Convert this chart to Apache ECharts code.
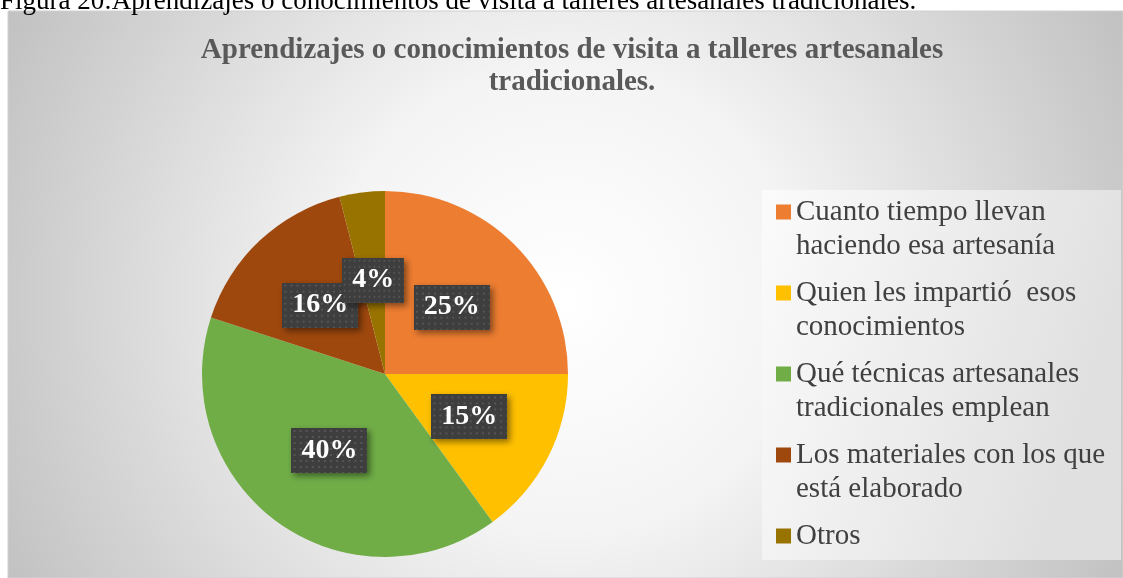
<!DOCTYPE html>
<html>
<head>
<meta charset="utf-8">
<script src="https://cdn.jsdelivr.net/npm/echarts@6/dist/echarts.min.js"></script>
<style>
  html, body { margin: 0; padding: 0; background: #fff; }
  #chart { width: 1123px; height: 578px; }
</style>
</head>
<body>
<div id="chart"></div>
<script>
  // datos
  var categories = [
    'Cuanto tiempo llevan haciendo esa artesanía',
    'Quien les impartió  esos conocimientos',
    'Qué técnicas artesanales tradicionales emplean',
    'Los materiales con los que está elaborado',
    'Otros'
  ]
  var percents = [25, 15, 40, 16, 4]
  var colors = ['#ED7D31', '#FFC000', '#70AD47', '#9E480E', '#997300']
  var titleText = 'Aprendizajes o conocimientos de visita a talleres artesanales\ntradicionales.'
  var captionText = 'Figura 20:Aprendizajes o conocimientos de visita a talleres artesanales tradicionales.'

  var serif = '"Liberation Serif", "Times New Roman", serif'
  var chart = echarts.init(document.getElementById('chart'))

  // icono cuadrado arriba, alineado con la primera linea del texto
  var topSquare = 'path://M0,0h15v15h-15zM0,49h15'

  // fondo punteado de las etiquetas
  var dots = document.createElement('canvas')
  dots.width = 75
  dots.height = 45
  var ctx = dots.getContext('2d')
  ctx.fillStyle = '#3e3e3e'
  ctx.fillRect(0, 0, 75, 45)
  ctx.fillStyle = '#555555'
  for (var yy = 2; yy < 45; yy += 6) {
    for (var xx = 2; xx < 75; xx += 6) ctx.fillRect(xx, yy, 2, 2)
  }

  var option = {
    animation: false,
    color: colors,
    title: {
      text: titleText,
      left: 572,
      top: 35,
      padding: 0,
      textAlign: 'center',
      textStyle: {
        fontFamily: serif,
        fontWeight: 'bold',
        fontSize: 29,
        lineHeight: 32,
        color: '#595959'
      }
    },
    legend: {
      orient: 'vertical',
      left: 776,
      top: 195,
      height: 470,
      padding: 0,
      itemGap: 13,
      itemWidth: 15,
      itemHeight: 49,
      icon: topSquare,
      selectedMode: false,
      data: categories,
      formatter: function (name) {
        // la ultima entrada ocupa una sola linea
        return categories.indexOf(name) === categories.length - 1 ? name + '\n ' : name
      },
      textStyle: {
        fontFamily: serif,
        fontSize: 29,
        lineHeight: 34,
        color: '#404040',
        width: 330,
        overflow: 'break'
      }
    },
    graphic: [
      {
        type: 'rect',
        z: -10,
        silent: true,
        shape: { x: 8, y: 11, width: 1115, height: 567 },
        style: {
          fill: {
            type: 'radial', x: 565, y: 300, r: 660, global: true,
            colorStops: [
              { offset: 0, color: '#ffffff' },
              { offset: 0.35, color: '#f4f4f4' },
              { offset: 1, color: '#bdbdbd' }
            ]
          },
          stroke: '#d0d0d0',
          lineWidth: 1
        }
      },
      {
        type: 'rect',
        z: -5,
        silent: true,
        shape: { x: 762, y: 190, width: 359, height: 370 },
        style: {
          fill: {
            type: 'linear', x: 0, y: 0, x2: 1, y2: 0.3,
            colorStops: [
              { offset: 0, color: '#fbfbfb' },
              { offset: 1, color: '#e0e0e0' }
            ]
          }
        }
      },
      {
        type: 'text',
        silent: true,
        left: 0,
        top: -12,
        style: {
          text: captionText,
          font: '27px ' + serif,
          fill: '#000'
        }
      }
    ],
    series: [{
      type: 'pie',
      center: [385, 374],
      radius: 183,
      startAngle: 90,
      clockwise: true,
      silent: true,
      avoidLabelOverlap: false,
      labelLayout: { hideOverlap: false },
      label: {
        show: true,
        position: 'inside',
        formatter: '{c}%',
        fontFamily: serif,
        fontWeight: 'bold',
        fontSize: 28,
        color: '#ffffff',
        backgroundColor: { image: dots },
        padding: [10, 10, 7, 10],
        shadowColor: 'rgba(0,0,0,0.45)',
        shadowBlur: 6,
        shadowOffsetX: 3,
        shadowOffsetY: 3
      },
      labelLine: { show: false },
      itemStyle: { borderWidth: 0 },
      data: categories.map(function (name, i) {
        return { name: name, value: percents[i] }
      })
    }]
  }

  chart.setOption(option)
</script>
</body>
</html>
